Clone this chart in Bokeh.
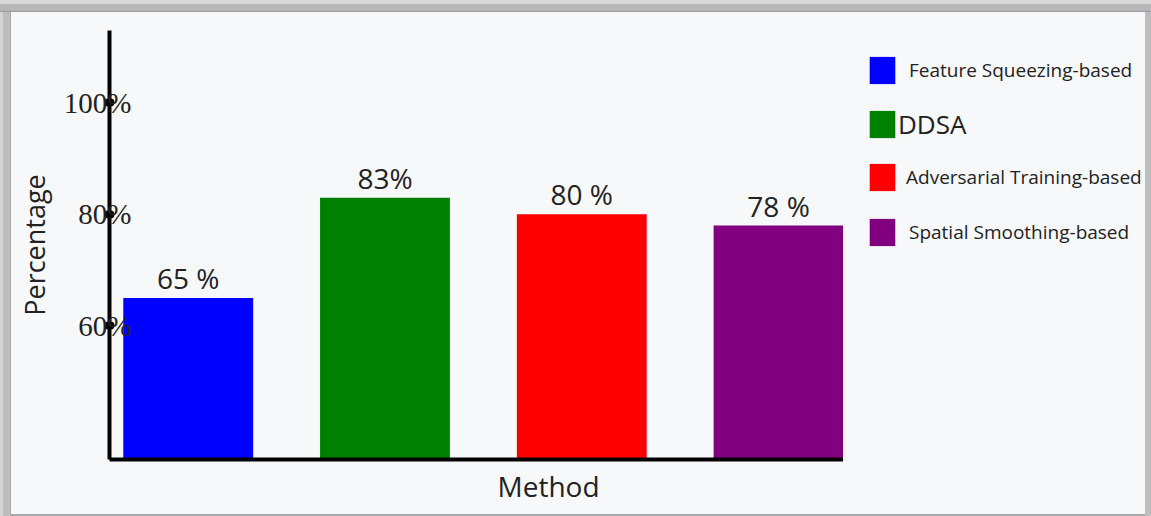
from bokeh.plotting import figure
from bokeh.models import ColumnDataSource, Range1d, FixedTicker, Legend, LegendItem, Title
from bokeh.layouts import row
from bokeh.core.properties import value
from bokeh.embed import file_html
from bokeh.resources import INLINE

# ---- data ----
methods = ["Feature Squeezing-based", "DDSA", "Adversarial Training-based", "Spatial Smoothing-based"]
values = [65, 83, 80, 78]
value_labels = ["65 %", "83%", "80 %", "78 %"]
colors = ["#0000ff", "#008000", "#ff0000", "#800080"]
y_ticks = [60, 80, 100]
y_tick_labels = ["60%", "80%", "100%"]

x_pos = list(range(1, len(methods) + 1))
src = ColumnDataSource(dict(x=x_pos, top=values, label=value_labels, color=colors, method=methods))

BG = "#f7f8fa"
SANS = "Open Sans"
TXT = "#222222"

# ---- main chart ----
p = figure(width=832, height=502, x_range=Range1d(0.6, 4.33), y_range=Range1d(36, 113),
           output_backend="svg", toolbar_location=None,
           min_border_left=98, min_border_right=0, min_border_top=18, min_border_bottom=55,
           background_fill_color=BG, border_fill_color=BG, outline_line_color=None)
p.grid.visible = False

bars = p.vbar(x="x", top="top", bottom=36, width=0.66, color="color", line_color=None, source=src)
p.text(x="x", y="top", text="label", source=src, text_align="center", text_baseline="alphabetic",
       y_offset=-20, text_font=value(SANS), text_font_size="28px", text_color=TXT)

ya = p.yaxis[0]
ya.ticker = FixedTicker(ticks=y_ticks)
ya.major_label_overrides = {t: l for t, l in zip(y_ticks, y_tick_labels)}
ya.major_label_text_font = "Liberation Serif"
ya.major_label_text_font_size = "29px"
ya.major_label_text_color = TXT
ya.major_label_standoff = -23
ya.major_tick_in = 1
ya.major_tick_out = 1
ya.major_tick_line_width = 8
ya.major_tick_line_cap = "round"
ya.major_tick_line_color = "black"
ya.minor_tick_line_color = None
ya.axis_line_width = 4
ya.axis_line_color = "black"
ya.axis_label = "Percentage"
ya.axis_label_text_font = SANS
ya.axis_label_text_font_style = "normal"
ya.axis_label_text_font_size = "27px"
ya.axis_label_text_color = TXT
ya.axis_label_standoff = 8

xa = p.xaxis[0]
xa.ticker = FixedTicker(ticks=[])
xa.major_tick_line_color = None
xa.minor_tick_line_color = None
xa.major_label_text_color = None
xa.axis_line_width = 4
xa.axis_line_color = "black"

p.add_layout(Title(text="Method", align="left", offset=388, text_font=SANS, text_font_style="normal",
                   text_font_size="28px", text_color=TXT), "below")

# ---- legend panel (same data, glyphs kept out of view) ----
q = figure(width=302, height=502, x_range=Range1d(100, 101), y_range=Range1d(1000, 1001),
           output_backend="svg", toolbar_location=None, x_axis_type=None, y_axis_type=None,
           min_border=0, background_fill_color=BG, border_fill_color=BG, outline_line_color=None)
q.grid.visible = False
lbars = q.vbar(x="x", top="top", width=0.66, color="color", line_color=None, source=src)

leg_locs = [(23, 372), (23, 317), (23, 265), (23, 210)]
leg_sizes = ["19px", "26px", "19px", "19px"]
leg_standoffs = [11, 0, 8, 11]
for i, name in enumerate(methods):
    lg = Legend(items=[LegendItem(label=name, renderers=[lbars], index=i)],
                location=leg_locs[i], padding=0, margin=0, spacing=0,
                glyph_width=32, glyph_height=34, label_height=34,
                label_standoff=leg_standoffs[i], label_text_font=SANS,
                label_text_font_size=leg_sizes[i], label_text_color=TXT,
                border_line_color=None, background_fill_alpha=0)
    q.add_layout(lg, "center")

frame_shadow = ("inset 0 4px 0 #d8d8d8, inset 0 11px 0 #b6b6b6, inset 0 12px 0 #9c9c9c, "
                "inset 3px 0 0 #d4d4d4, inset 10px 0 0 #bdbdbd, inset 11px 0 0 #a8a8a8, "
                "inset -6px 0 0 #bdbdbd, inset 0 -2px 0 #a8a8a8")
root = row(p, q, spacing=0, styles={"background-color": BG, "padding": "12px 6px 2px 11px",
                                    "box-shadow": frame_shadow})
open("out.html", "w").write(file_html(root, INLINE))
